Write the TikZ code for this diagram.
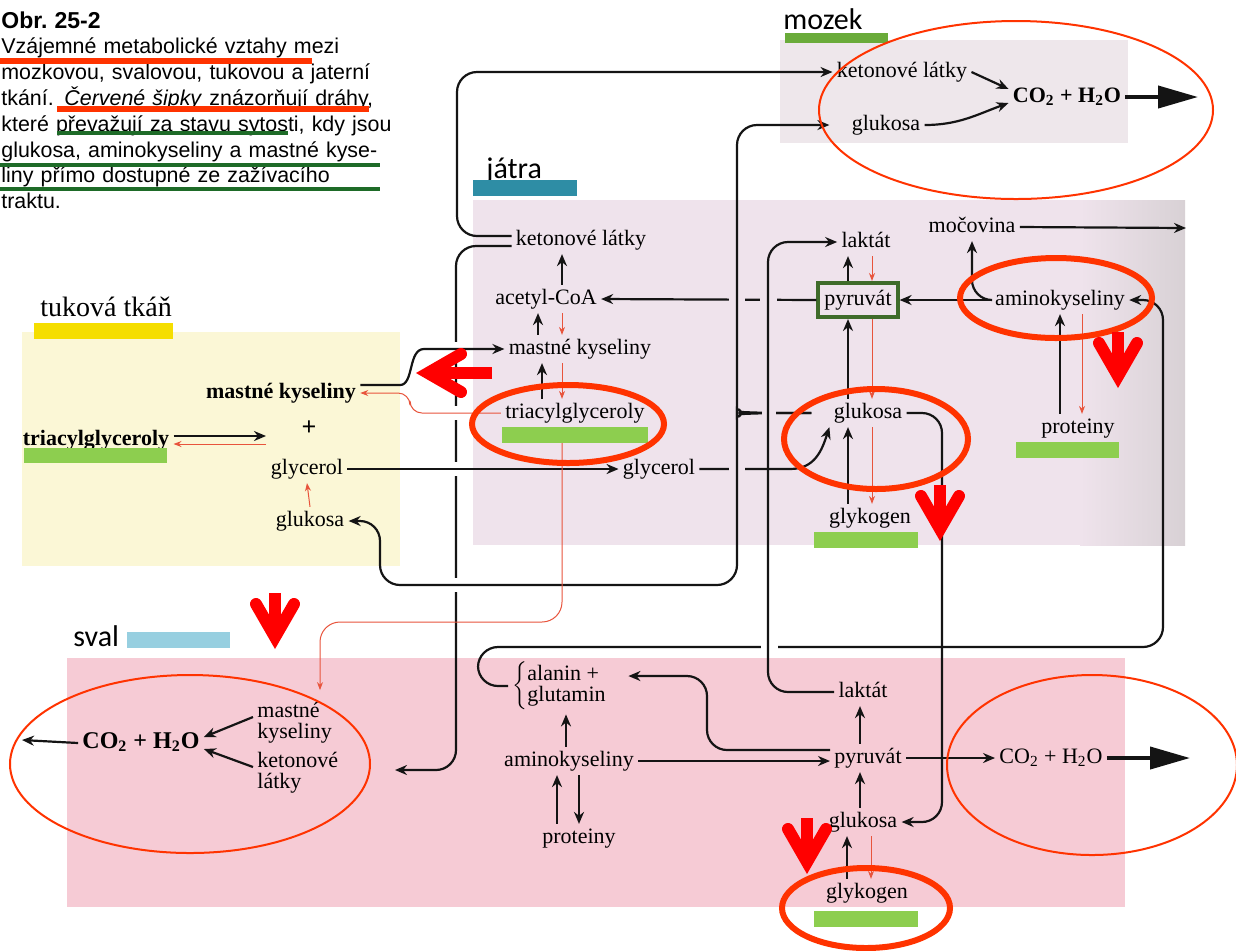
\documentclass[tikz,border=0pt]{standalone}
\usepackage{fontspec}
\setmainfont{Liberation Serif}
\newfontfamily\capfont{Liberation Sans}
\newfontfamily\tagfont{Carlito}
\usetikzlibrary{arrows.meta,calc}
\definecolor{ink}{HTML}{141414}
\definecolor{fedred}{HTML}{E8543C}
\definecolor{ringred}{HTML}{FF3300}
\definecolor{alertred}{HTML}{FF0000}
\definecolor{okgreen}{HTML}{3F6B2A}
\definecolor{hlgreen}{HTML}{8DCE4F}
\definecolor{brainbg}{HTML}{EEE7EB}
\definecolor{liverbg}{HTML}{EFE3EC}
\definecolor{livergray}{HTML}{D8D1D5}
\definecolor{fatbg}{HTML}{FBF7D6}
\definecolor{musclebg}{HTML}{F6CBD5}
\definecolor{linered}{HTML}{FF3300}
\definecolor{linegreen}{HTML}{1E6B28}
\definecolor{barbrain}{HTML}{6AAB3A}
\definecolor{barliver}{HTML}{2E8DA5}
\definecolor{barfat}{HTML}{F5DE00}
\definecolor{barmuscle}{HTML}{97CFE0}
\newcommand{\metfont}{\fontsize{11}{13}\selectfont}
\newcommand{\cotwo}{CO\textsubscript{2} + H\textsubscript{2}O}
\newcommand{\capline}[1]{\makebox[191.5pt][s]{#1}}
\newcommand{\alertdown}[2]{%
  \draw[alertline,line cap=butt] (#1,#2) -- (#1,#2+44);
  \draw[alertline] (#1-19,#2+11) -- (#1,#2+44) -- (#1+19,#2+11);}
\tikzset{
  met/.style={font=\metfont, inner sep=2pt, text height=7.5pt, text depth=2.2pt},
  stack/.style={font=\fontsize{11}{10.5}\selectfont, align=left, inner sep=2pt},
  rxn/.style={draw=ink, line width=1.1pt, -{Stealth[length=6pt,width=5pt]}},
  route/.style={rxn, rounded corners=10pt},
  fed/.style={draw=fedred, line width=0.5pt, -{Stealth[length=4pt,width=3pt]}},
  bigout/.style={draw=ink, line width=2pt, -{Triangle[length=20pt,width=11pt]}},
  ring/.style={draw=ringred, line width=3pt},
  thinring/.style={draw=ringred, line width=1pt},
  alertline/.style={draw=alertred, line width=6pt, line cap=round, line join=miter},
  tag/.style={font=\tagfont\fontsize{15}{17}\selectfont, inner sep=0pt},
  tagserif/.style={font=\fontsize{14}{16}\selectfont, inner sep=0pt},
  caption/.style={font=\capfont\fontsize{10.7}{12.9}\selectfont, text width=191.5pt,
    align=left, inner sep=0pt},
  markred/.style={draw=linered, line width=3pt},
  markgreen/.style={draw=linegreen, line width=2pt}
}
\begin{document}
\begin{tikzpicture}[x=0.5pt,y=-0.5pt]
\useasboundingbox (0,0) rectangle (1236,950);
\fill[white] (0,0) rectangle (1236,950);
% tissues
\fill[brainbg] (780,40) rectangle (1128,143);
\fill[liverbg] (473,200) rectangle (1185,545);
\shade[left color=liverbg, right color=livergray] (1080,200) rectangle (1185,545);
\fill[fatbg] (22,332) rectangle (400,566);
\fill[musclebg] (67,658) rectangle (1125,907);

% caption
\node[caption, anchor=north west] (cap) at (1,11) {%
  {\fontsize{11.5}{12.9}\selectfont\bfseries Obr.\ 25-2}\\
  \capline{Vzájemné metabolické vztahy mezi}\\
  \capline{mozkovou, svalovou, tukovou a jaterní}\\
  \capline{tkání. \textit{Červené šipky} znázorňují dráhy,}\\
  \capline{které převažují za stavu sytosti, kdy jsou}\\
  \capline{glukosa, aminokyseliny a mastné kyse-}\\
  \capline{liny přímo dostupné ze zažívacího}\\
  traktu.};
\draw[markred] (0,60.5) -- (312,60.5);
\draw[markred] (57,109) -- (369,109);
\draw[markgreen] (57,133) -- (288,133);
\draw[markgreen] (0,164.5) -- (380,164.5);
\draw[markgreen] (0,188.5) -- (380,188.5);

% tissue labels
\node[tag, anchor=base west] (tagM) at (783,29) {mozek};
\node[tag, anchor=base west] (tagJ) at (486,178) {játra};
\node[tagserif, anchor=base west] (tagT) at (40,316) {tuková tkáň};
\node[tag, anchor=base west] (tagS) at (73,646) {sval};
\fill[barbrain] (785,33) rectangle (888,43);
\fill[barliver] (473,180) rectangle (577,196);
\fill[barfat] (34,323) rectangle (173,339);
\fill[barmuscle] (127,632) rectangle (230,648);

% brain
\node[met] (kM) at (902,72) {ketonové látky};
\node[met] (gM) at (886,125) {glukosa};
\node[met, font=\metfont\bfseries] (coM) at (1067,97) {\cotwo};
\coordinate (outM) at (1198,97);

% liver
\node[met] (kJ) at (581,240) {ketonové látky};
\node[met] (aJ) at (546,299) {acetyl-CoA};
\node[met] (mJ) at (580,349) {mastné kyseliny};
\node[met] (tJ) at (575,413) {triacylglyceroly};
\node[met] (glyJ) at (659,469) {glycerol};
\node[met] (lJ) at (866,242) {laktát};
\node[met, draw=okgreen, line width=2pt, minimum height=17pt, inner xsep=3pt] (pJ) at (858,300) {pyruvát};
\node[met] (gJ) at (868,413) {glukosa};
\node[met] (gkJ) at (870,518) {glykogen};
\node[met] (uJ) at (972,227) {močovina};
\node[met] (aaJ) at (1060,300) {aminokyseliny};
\node[met] (prJ) at (1078,428) {proteiny};
\coordinate (outU) at (1186,228);

% adipose tissue
\node[met, font=\metfont\bfseries] (mT) at (281,393) {mastné kyseliny};
\node[met, font=\fontsize{13}{15}\selectfont\bfseries] (plusT) at (309,430) {+};
\node[met, font=\metfont\bfseries] (tT) at (96,440) {triacylglyceroly};
\node[met] (glyT) at (307,469) {glycerol};
\node[met] (gT) at (310,521) {glukosa};
\coordinate (sp) at (266,440);

% muscle
\node[met, font=\fontsize{12}{14}\selectfont\bfseries] (coS) at (141,743) {\cotwo};
\node[stack, anchor=west] (mS) at (253,723) {mastné\\kyseliny};
\node[stack, anchor=west] (kS) at (253,773) {ketonové\\látky};
\coordinate (outS) at (22,740);
\coordinate (kIn) at (395,770);
\node[stack, anchor=west] (agS) at (508,686) {\renewcommand{\arraystretch}{0.9}%
  $\left\{\begin{tabular}{@{}l@{}}alanin +\\glutamin\end{tabular}\right.$};
\node[met] (aaS) at (569,761) {aminokyseliny};
\node[met] (prS) at (579,838) {proteiny};
\node[met] (lS) at (863,692) {laktát};
\node[met] (pS) at (868,758) {pyruvát};
\node[met] (gS) at (863,822) {glukosa};
\node[met] (gkS) at (867,893) {glykogen};
\node[met] (coS2) at (1051,758) {\cotwo};
\coordinate (outS2) at (1190,758);

% long connectors, the ones passing underneath first
\draw[route] ([yshift=2pt]kJ.west) -| (457,72) -- (kM.west);
\draw[route] ([yshift=-3pt]kJ.west) -| (456,770) -- (kIn);
\foreach \y in {349,413,469,585} \fill[white] (451,\y-7) rectangle (461,\y+7);
\draw[rxn] (pJ.west) -- (aJ.east);
\draw[rxn] (glyJ.east) -- (790,469) .. controls (815,469) and (822,450) .. (gJ.south west);
\fill[liverbg] (729,295) rectangle (745,305);
\fill[liverbg] (760,295) rectangle (777,305);
\fill[liverbg] (729,464) rectangle (745,474);
\draw[route, shorten <=9pt] (gJ.west) -- (760,413) .. controls (742,412) and (737,406) .. (737,392)
  -- (737,125) -- ([xshift=-9pt]gM.west);
\draw[route, shorten <=9pt] (gJ.west) -- (760,413) .. controls (742,414) and (737,420) .. (737,434)
  -- (737,585) -- (380,585) -- (380,521) -- (gT.east);
\fill[liverbg] (762,408) rectangle (776,418);
\draw[route] (agS.west) -| (478,647) -- (1163,647) -- (1163,300) -- (aaJ.east);
\fill[white] (761,642) rectangle (778,652);
\draw[route] (lS.west) -| (768,242) -- (lJ.west);
\draw[route] (gJ.east) -| (942,822) -- (gS.east);

% brain
\draw[rxn] (kM.east) -- ([yshift=4pt]coM.west);
\draw[rxn] (gM.east) to[out=0,in=200] ([yshift=-3pt]coM.west);
\draw[bigout] (coM.east) -- (outM);

% liver
\draw[rxn] (562,0 |- aJ.north) -- (562,0 |- kJ.south);
\draw[rxn] (538,0 |- mJ.north) -- (538,0 |- aJ.south);
\draw[fed] (562,0 |- aJ.south) -- (562,0 |- mJ.north);
\draw[rxn] (542,0 |- tJ.north) -- (542,0 |- mJ.south);
\draw[fed] (562,0 |- mJ.south) -- (562,0 |- tJ.north);
\draw[rxn] (848,0 |- pJ.north) -- (848,0 |- lJ.south);
\draw[fed] (872,0 |- lJ.south) -- (872,0 |- pJ.north);
\draw[rxn] (848,0 |- gJ.north) -- (848,0 |- pJ.south);
\draw[fed] (872,0 |- pJ.south) -- (872,0 |- gJ.north);
\draw[rxn] (848,0 |- gkJ.north) -- (848,0 |- gJ.south);
\draw[fed] (872,0 |- gJ.south) -- (872,0 |- gkJ.north);
\draw[rxn] (aaJ.west) -- (pJ.east);
\draw[route] (aaJ.west) -| (uJ.south);
\draw[rxn] (uJ.east) -- (outU);
\draw[rxn] (1060,0 |- prJ.north) -- (1060,0 |- aaJ.south);
\draw[fed] (1082,0 |- aaJ.south) -- (1082,0 |- prJ.north);

% adipose tissue
\draw[rxn] ([yshift=2pt]tT.east) -- ([yshift=2pt]sp);
\draw[fed] ([yshift=-2pt]sp) -- ([yshift=-2pt]tT.east);
\draw[fed] (gT.north) -- (glyT.south);
\draw[rxn] (glyT.east) -- (glyJ.west);
\draw[rxn] ([yshift=4pt]mT.east) -- (400,385) .. controls (414,385) and (408,349) .. (424,349) -- (mJ.west);
\draw[fed, rounded corners=6pt] (tJ.west) -| (410,393) -- (mT.east);
\draw[fed, rounded corners=10pt, shorten >=4pt] (562,0 |- tJ.south) -- (562,622) -- (320,622)
  -- (320,0 |- mS.north);

% muscle
\draw[rxn] ([yshift=3pt]mS.west) -- ([yshift=3pt]coS.east);
\draw[rxn] ([yshift=3pt]kS.west) -- ([yshift=-3pt]coS.east);
\draw[rxn] (coS.west) -- (outS);
\draw[rxn] (566,0 |- aaS.north) -- (566,0 |- agS.south);
\draw[rxn] (557,0 |- prS.north) -- (557,0 |- aaS.south);
\draw[rxn] (579,0 |- aaS.south) -- (579,0 |- prS.north);
\draw[rxn] (aaS.east) -- (aaS.east -| pS.west);
\draw[route, shorten >=8pt] ([yshift=4pt]pS.west) -| (707,676) -- ([yshift=5pt]agS.east);
\draw[rxn] (860,0 |- pS.north) -- (860,0 |- lS.south);
\draw[rxn] (860,0 |- gS.north) -- (860,0 |- pS.south);
\draw[rxn] (847,0 |- gkS.north) -- (847,0 |- gS.south);
\draw[fed] (871,0 |- gS.south) -- (871,0 |- gkS.north);
\draw[rxn] (pS.east) -- (coS2.west);
\draw[bigout] (coS2.east) -- (outS2);

% highlights
\fill[hlgreen] (24,448) rectangle (167,463);
\fill[hlgreen] (502,427) rectangle (648,443);
\fill[hlgreen] (814,532) rectangle (918,548);
\fill[hlgreen] (1016,442) rectangle (1119,458);
\fill[hlgreen] (814,911) rectangle (918,927);
\draw[ring] (568,424) ellipse [x radius=96, y radius=39];
\draw[ring] (876,439) ellipse [x radius=92, y radius=50];
\draw[ring] (1056,298) ellipse [x radius=96, y radius=40];
\draw[ring] (866,908) ellipse [x radius=84, y radius=40];
\draw[thinring] (1016,110) ellipse [x radius=197, y radius=89];
\draw[thinring] (190,764) ellipse [x radius=180, y radius=89];
\draw[thinring] (1092,765) ellipse [x radius=145, y radius=90];
\alertdown{1118}{332}
\alertdown{940}{485}
\alertdown{275}{593}
\alertdown{807}{818}
\draw[alertline, line cap=butt] (492,373) -- (428,373);
\draw[alertline] (461,354) -- (428,373) -- (461,392);
\end{tikzpicture}
\end{document}
